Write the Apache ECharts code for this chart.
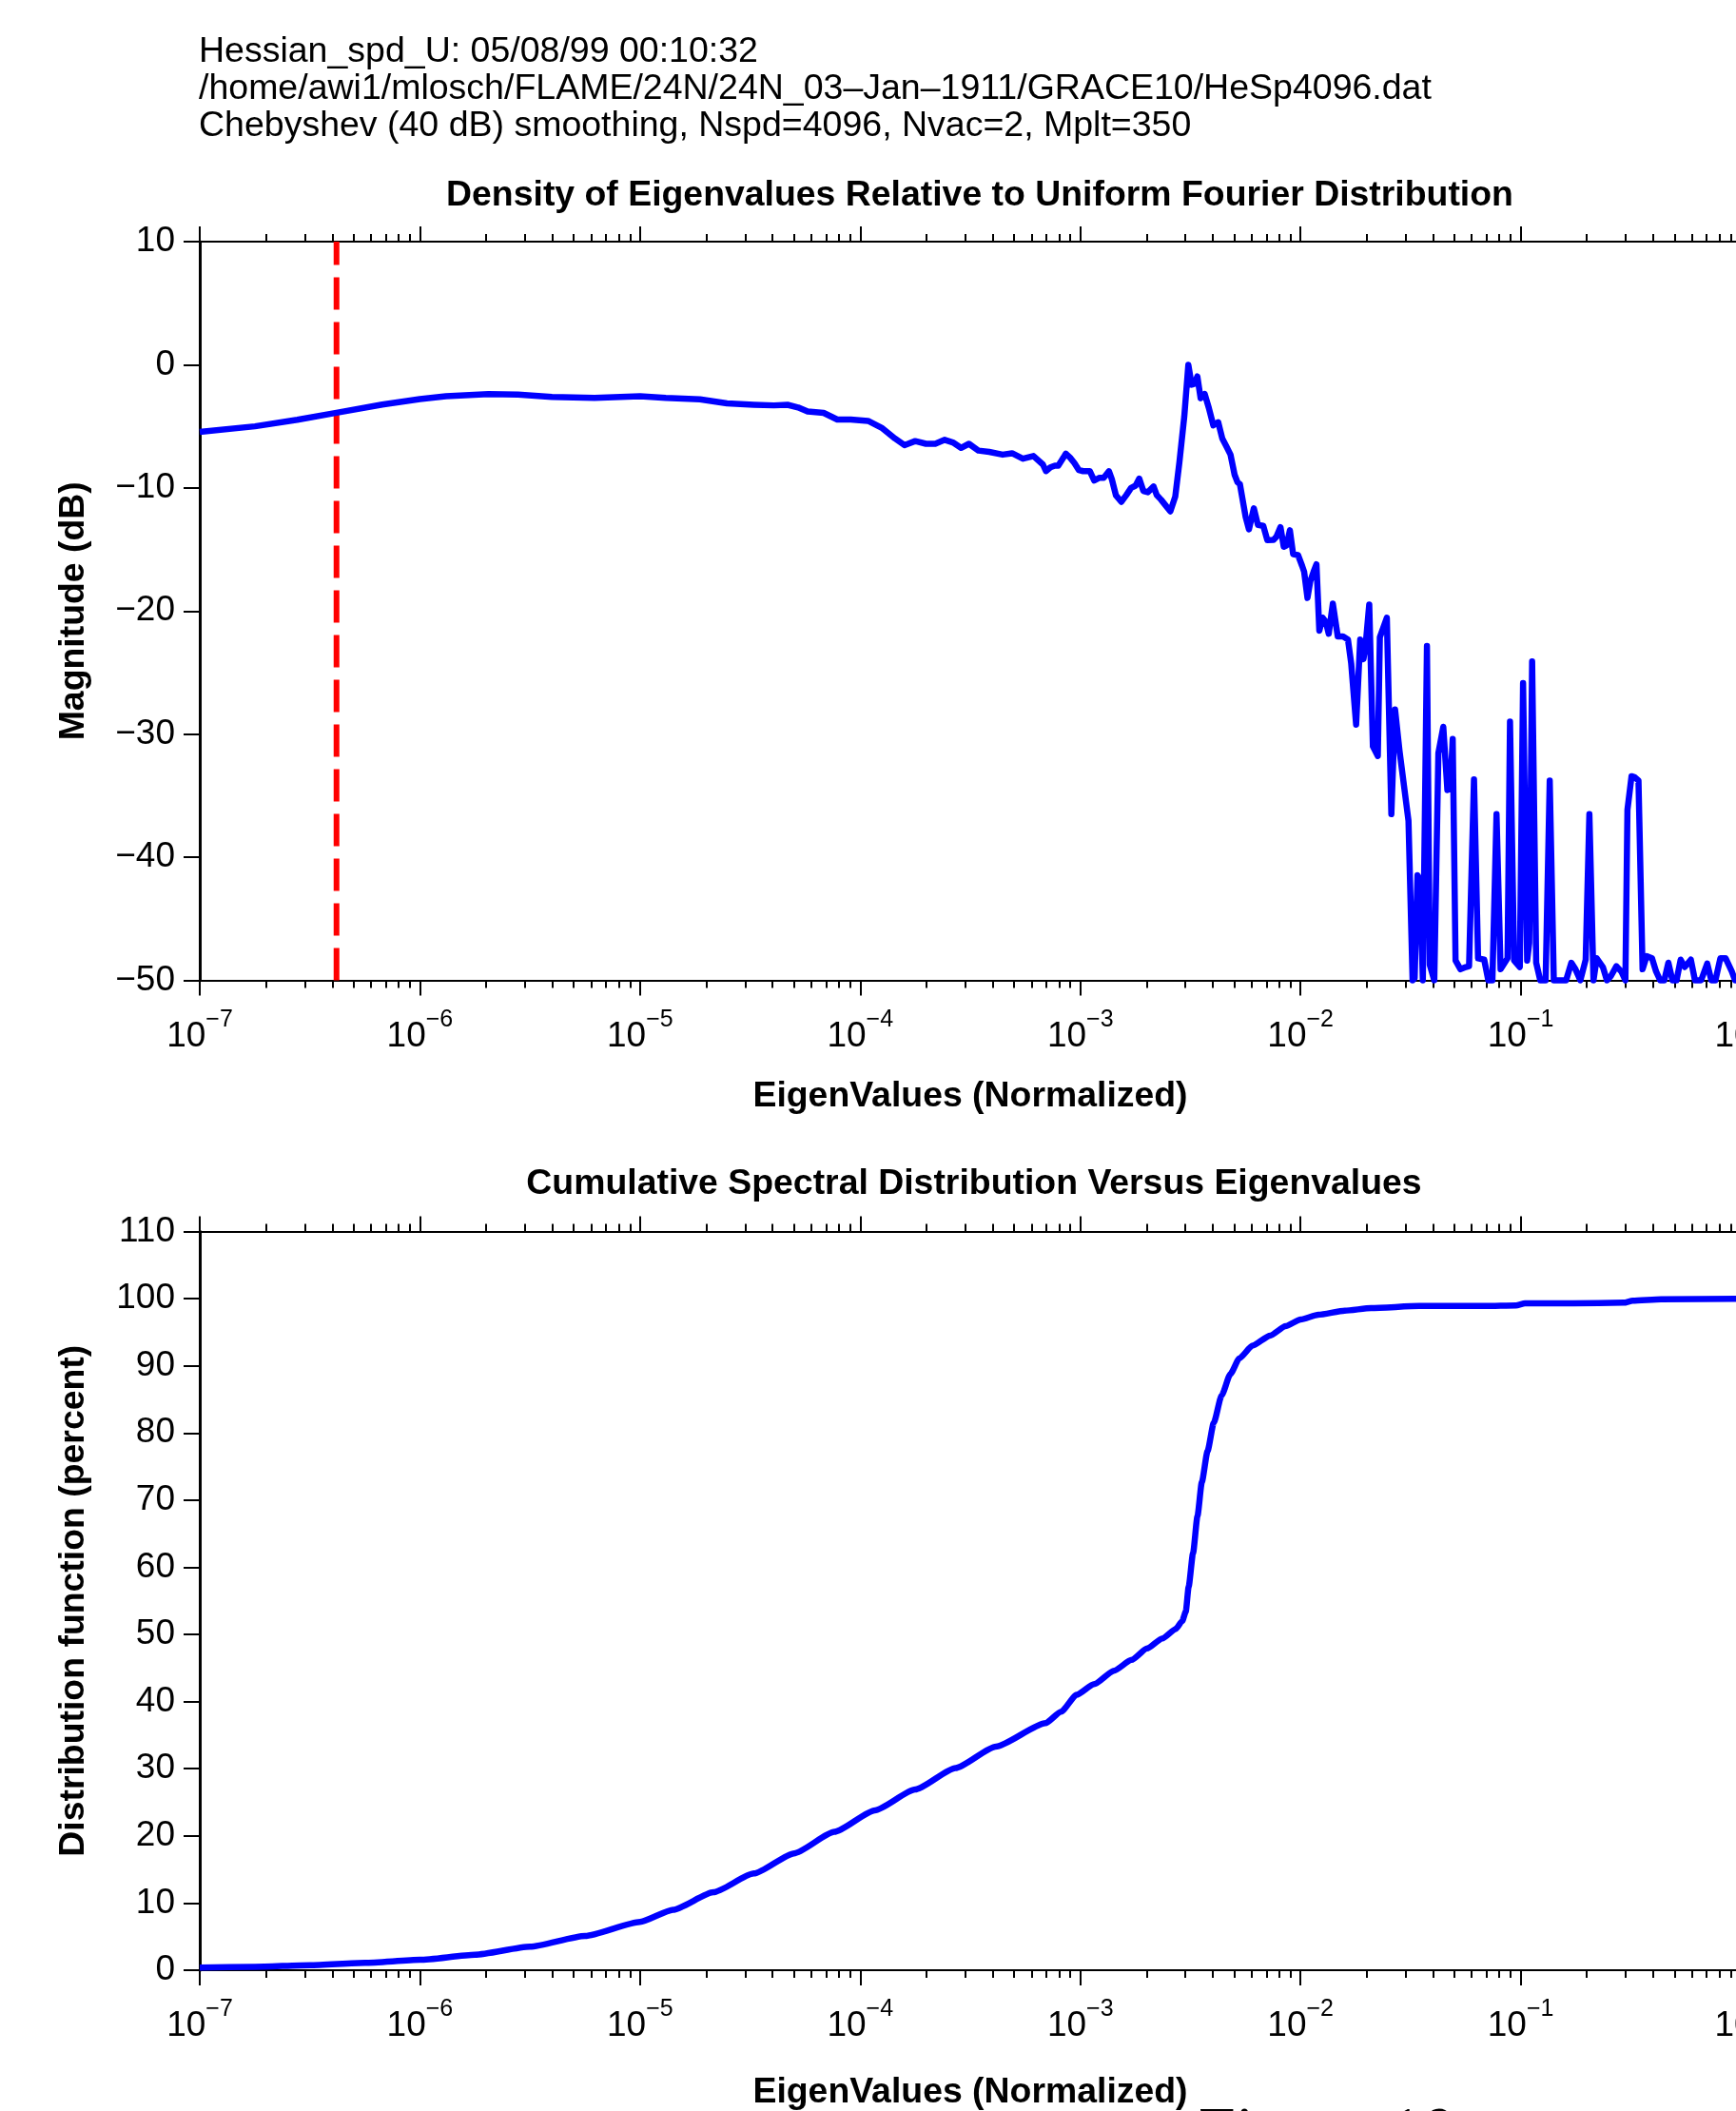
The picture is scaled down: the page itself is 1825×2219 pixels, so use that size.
<!DOCTYPE html>
<html>
<head>
<meta charset="utf-8">
<script src="https://cdn.jsdelivr.net/npm/echarts@6/dist/echarts.min.js"></script>
<style>
  html, body { margin: 0; padding: 0; background: #fff; }
  #chart { width: 1825px; height: 2219px; }
</style>
</head>
<body>
<div id="chart"></div>
<script>
// ---- header lines and titles ----
const headerLines = [
  'Hessian_spd_U: 05/08/99 00:10:32',
  '/home/awi1/mlosch/FLAME/24N/24N_03\u2013Jan\u20131911/GRACE10/HeSp4096.dat',
  'Chebyshev (40 dB) smoothing, Nspd=4096, Nvac=2, Mplt=350'
];
const densityTitle = 'Density of Eigenvalues Relative to Uniform Fourier Distribution';
const cumulativeTitle = 'Cumulative Spectral Distribution Versus Eigenvalues';
const xName = 'EigenValues (Normalized)';
const densityYName = 'Magnitude (dB)';
const cumulativeYName = 'Distribution function (percent)';
const captionText = 'Figure 10';

// ---- eigenvalue axis ticks ----
const decades = [1e-7, 1e-6, 1e-5, 1e-4, 1e-3, 1e-2, 1e-1, 1];
const minorSteps = [2, 3, 4, 5, 6, 7, 8, 9];

// vacuum-mode cutoff (dashed marker) and the dB range it spans
const cutoffEigenvalue = 4.18e-7;
const cutoffSpan = [-50, 10];

// ---- density of eigenvalues (dB), smooth low-eigenvalue part ----
const eigLow = [1.0e-7, 1.782e-7, 2.773e-7, 4.18e-7, 6.745e-7, 1.0e-6, 1.312e-6, 2.046e-6,
  2.793e-6, 3.981e-6, 6.209e-6, 1.0e-5, 1.309e-5];
const magLow = [-5.45, -5.0, -4.47, -3.9, -3.23, -2.79, -2.56, -2.39,
  -2.43, -2.61, -2.70, -2.56, -2.70];

// middle part, slowly falling
const eigMid = [1.871e-5, 2.483e-5, 3.289e-5, 4.055e-5, 4.677e-5, 5.224e-5, 5.768e-5, 6.823e-5,
  7.870e-5, 9.057e-5, 1.086e-4, 1.250e-4, 1.439e-4, 1.589e-4, 1.778e-4, 1.991e-4, 2.193e-4,
  2.421e-4, 2.636e-4, 2.871e-4, 3.119e-4, 3.443e-4, 3.855e-4, 4.436e-4, 4.898e-4, 5.483e-4,
  6.124e-4, 6.761e-4, 6.98e-4, 7.31e-4, 7.66e-4, 7.94e-4, 8.39e-4, 8.59e-4, 8.97e-4, 9.40e-4,
  9.84e-4, 1.030e-3, 1.104e-3, 1.156e-3];
const magMid = [-2.81, -3.14, -3.25, -3.30, -3.25, -3.47, -3.80, -3.91,
  -4.45, -4.45, -4.56, -5.11, -5.99, -6.53, -6.20, -6.42, -6.42,
  -6.10, -6.31, -6.75, -6.42, -6.97, -7.08, -7.30, -7.19, -7.63,
  -7.41, -8.1, -8.64, -8.33, -8.20, -8.20, -7.53, -7.22, -7.53, -7.98,
  -8.55, -8.64, -8.64, -9.4];

// peak near 3e-3 and the roll-off
const eigPeak = [1.223e-3, 1.277e-3, 1.349e-3, 1.390e-3, 1.451e-3, 1.535e-3, 1.615e-3, 1.700e-3,
  1.782e-3, 1.852e-3, 1.933e-3, 2.026e-3, 2.151e-3, 2.226e-3, 2.324e-3, 2.457e-3, 2.564e-3,
  2.699e-3, 2.818e-3, 2.966e-3, 3.095e-3, 3.203e-3, 3.300e-3, 3.401e-3, 3.519e-3, 3.673e-3,
  3.834e-3, 4.019e-3, 4.230e-3, 4.415e-3, 4.608e-3, 4.810e-3, 5.021e-3, 5.174e-3, 5.309e-3,
  5.636e-3, 5.833e-3, 6.140e-3, 6.409e-3, 6.776e-3, 7.072e-3, 7.543e-3, 7.772e-3, 8.112e-3,
  8.395e-3, 8.650e-3, 8.952e-3, 9.263e-3, 9.750e-3, 1.018e-2, 1.039e-2, 1.076e-2, 1.108e-2,
  1.147e-2, 1.182e-2, 1.218e-2, 1.260e-2, 1.304e-2, 1.344e-2, 1.403e-2, 1.477e-2, 1.561e-2,
  1.643e-2, 1.700e-2, 1.790e-2, 1.868e-2, 1.933e-2, 1.975e-2, 2.053e-2, 2.133e-2, 2.246e-2,
  2.294e-2, 2.468e-2, 2.587e-2, 2.689e-2, 2.818e-2, 3.095e-2];
const magPeak = [-9.18, -9.18, -8.65, -9.29, -10.60, -11.13, -10.60, -10.00,
  -9.82, -9.25, -10.25, -10.35, -9.89, -10.60, -10.95, -11.49, -11.91,
  -10.71, -7.94, -4.21, 0.0, -1.62, -1.55, -0.95, -2.72, -2.37,
  -3.50, -4.92, -4.67, -5.99, -6.63, -7.30, -8.93, -9.54, -9.71,
  -12.37, -13.37, -11.66, -13.01, -13.08, -14.25, -14.22, -13.97, -13.19,
  -14.79, -14.68, -13.44, -15.39, -15.46, -16.35, -16.81, -18.94, -17.59,
  -16.81, -16.21, -21.60, -20.54, -20.89, -21.85, -19.40, -22.06, -22.06,
  -22.31, -24.26, -29.23, -22.31, -23.91, -22.84, -19.47, -31.00, -31.78,
  -22.13, -20.54, -36.50, -27.99, -31.36, -37.04];

// sparse high-eigenvalue part, floored at -50 dB
const eigHigh = [3.231e-2, 3.301e-2, 3.401e-2, 3.490e-2, 3.596e-2, 3.754e-2, 3.868e-2, 4.054e-2,
  4.231e-2, 4.454e-2, 4.649e-2, 4.790e-2, 4.915e-2, 5.064e-2, 5.331e-2, 5.636e-2, 5.832e-2,
  6.141e-2, 6.409e-2, 6.833e-2, 7.133e-2, 7.445e-2, 7.772e-2, 8.110e-2, 8.465e-2, 8.722e-2,
  8.950e-2, 9.341e-2, 9.917e-2, 0.1026, 0.1071, 0.1094, 0.1128, 0.1177, 0.1228, 0.1299,
  0.1356, 0.1415, 0.1609, 0.1700, 0.1775, 0.1868, 0.1975, 0.2053, 0.2143, 0.2217, 0.2364,
  0.2467, 0.2575, 0.2723, 0.2867, 0.2992, 0.3057, 0.3191, 0.3288, 0.3431, 0.3581, 0.3738,
  0.3952, 0.4125, 0.4305, 0.4493, 0.4690, 0.4894, 0.5108, 0.5332, 0.5565, 0.5934, 0.6194,
  0.6604, 0.7043, 0.7350, 0.7672, 0.8076, 0.8539, 0.9105, 0.943, 1.0];
const magHigh = [-50, -49.81, -41.47, -41.83, -50, -22.84, -48.75, -50,
  -31.54, -29.41, -34.55, -34.37, -30.40, -48.39, -49.10, -48.92, -48.85,
  -33.67, -48.21, -48.32, -50, -50, -36.50, -49.10, -48.57, -48.21,
  -28.98, -48.39, -48.92, -25.86, -48.39, -46.97, -24.09, -48.57, -50, -50,
  -33.77, -50, -50, -48.57, -49.10, -50, -48.32, -36.50, -50, -48.21, -48.92,
  -50, -49.63, -48.85, -49.28, -50, -36.15, -33.42, -33.49, -33.77, -49.10, -48.04,
  -48.21, -49.28, -50, -50, -48.57, -50, -50, -48.32, -48.92, -48.32, -50,
  -50, -48.64, -50, -50, -48.21, -48.21, -49.28, -50, -50];

// ---- cumulative spectral distribution (percent) ----
const eigCum = [1.0e-7, 1.778e-7, 3.162e-7, 5.623e-7, 1.0e-6, 1.778e-6, 3.162e-6, 5.623e-6,
  1.0e-5, 1.413e-5, 2.153e-5, 3.289e-5, 5.012e-5, 7.638e-5, 1.167e-4, 1.778e-4, 2.710e-4,
  4.130e-4, 6.950e-4, 8.185e-4, 9.616e-4, 1.156e-3, 1.422e-3, 1.710e-3, 2.009e-3, 2.360e-3,
  2.710e-3, 2.904e-3, 3.013e-3, 3.105e-3, 3.251e-3, 3.404e-3, 3.565e-3, 3.784e-3, 4.036e-3,
  4.385e-3, 4.808e-3, 5.272e-3, 6.053e-3, 7.278e-3, 8.551e-3, 1.002e-2, 1.205e-2, 1.589e-2,
  2.094e-2, 3.467e-2, 6.918e-2, 9.528e-2, 0.1047, 0.1734, 0.2944, 0.3228, 0.4345, 1.0];
const pctCum = [0.4, 0.5, 0.75, 1.1, 1.55, 2.3, 3.5, 5.1,
  7.2, 9.0, 11.6, 14.4, 17.4, 20.6, 23.8, 26.9, 30.1,
  33.3, 36.8, 38.5, 41.0, 42.6, 44.6, 46.2, 47.9, 49.4,
  50.8, 52.0, 53.4, 57.1, 62.1, 67.6, 72.7, 77.3, 81.5,
  85.6, 88.8, 91.1, 93.0, 94.5, 95.9, 96.9, 97.6, 98.2,
  98.6, 98.9, 98.9, 99.0, 99.3, 99.3, 99.4, 99.7, 99.9, 100];

// ---- building the chart ----
const FONT = '"Liberation Sans", Arial, Helvetica, sans-serif';
const SERIF = '"Liberation Serif", "Times New Roman", serif';
const BLACK = '#000000';
const BLUE = '#0000ff';

const pairs = (xs, ys) => xs.map((x, i) => [x, ys[i]]);
const densityData = [].concat(
  pairs(eigLow, magLow), pairs(eigMid, magMid), pairs(eigPeak, magPeak), pairs(eigHigh, magHigh));
const cumulativeData = pairs(eigCum, pctCum);
const cutoffData = cutoffSpan.map(v => [cutoffEigenvalue, v]);

const minorTicks = [];
decades.slice(0, -1).forEach(d => minorSteps.forEach(k => minorTicks.push(k * d)));

function decadeLabel(v) {
  const e = Math.round(Math.log10(v));
  const exp = e < 0 ? '\u2212' + (-e) : String(e);
  return '{b|10}{s|' + exp + '}';
}

function xAxesFor(gridIndex, nameGap) {
  const base = {
    type: 'log', logBase: 10, min: 1e-7, max: 1, splitNumber: 7, gridIndex,
    splitLine: { show: false }, minorTick: { show: false }, minorSplitLine: { show: false }
  };
  const line = { show: true, onZero: false, lineStyle: { color: BLACK, width: 2 } };
  const noLine = { show: false, onZero: false };
  const major = { show: true, inside: false, length: 16, lineStyle: { color: BLACK, width: 2 } };
  const minor = { show: true, inside: false, length: 8, lineStyle: { color: BLACK, width: 2 },
    customValues: minorTicks };
  return [
    Object.assign({}, base, {
      position: 'bottom', axisLine: line, axisTick: major,
      axisLabel: {
        show: true, margin: 29, formatter: decadeLabel, hideOverlap: false,
        rich: {
          b: { fontSize: 37, fontFamily: FONT, color: BLACK },
          s: { fontSize: 25, fontFamily: FONT, color: BLACK, padding: [0, 0, 35, 0] }
        }
      },
      name: xName, nameLocation: 'middle', nameGap,
      nameTextStyle: { fontSize: 37.4, fontWeight: 'bold', fontFamily: FONT, color: BLACK }
    }),
    Object.assign({}, base, { position: 'bottom', axisLine: noLine, axisTick: minor,
      axisLabel: { show: false } }),
    Object.assign({}, base, { position: 'top', axisLine: line, axisTick: major,
      axisLabel: { show: false } }),
    Object.assign({}, base, { position: 'top', axisLine: noLine, axisTick: minor,
      axisLabel: { show: false } })
  ];
}

function yAxisFor(gridIndex, min, max, name) {
  return {
    type: 'value', gridIndex, min, max, interval: 10, position: 'left',
    axisLine: { show: true, onZero: false, lineStyle: { color: BLACK, width: 3 } },
    axisTick: { show: true, inside: false, length: 17, lineStyle: { color: BLACK, width: 2 } },
    axisLabel: {
      fontSize: 37, fontFamily: FONT, color: BLACK, margin: 26,
      formatter: v => String(v).replace('-', '\u2212')
    },
    splitLine: { show: false },
    name, nameLocation: 'middle', nameGap: 114,
    nameTextStyle: { fontSize: 37.4, fontWeight: 'bold', fontFamily: FONT, color: BLACK }
  };
}

const headerGraphics = headerLines.map((t, i) => ({
  type: 'text', x: 209, y: 55 + i * 38.8, silent: true,
  style: { text: t, font: '37.5px ' + FONT, fill: BLACK, align: 'left', verticalAlign: 'middle' }
}));

const option = {
  animation: false,
  backgroundColor: '#ffffff',
  grid: [
    { left: 210, top: 254, width: 1620, height: 776.5, outerBoundsMode: 'none', containLabel: false },
    { left: 210, top: 1294.5, width: 1620, height: 776.5, outerBoundsMode: 'none', containLabel: false }
  ],
  xAxis: [].concat(xAxesFor(0, 104), xAxesFor(1, 110)),
  yAxis: [
    yAxisFor(0, -50, 10, densityYName),
    yAxisFor(1, 0, 110, cumulativeYName)
  ],
  graphic: headerGraphics.concat([
    { type: 'text', x: 1030, y: 205.5, silent: true,
      style: { text: densityTitle, font: 'bold 37.4px ' + FONT, fill: BLACK,
        align: 'center', verticalAlign: 'middle' } },
    { type: 'text', x: 1024, y: 1245, silent: true,
      style: { text: cumulativeTitle, font: 'bold 37.4px ' + FONT, fill: BLACK,
        align: 'center', verticalAlign: 'middle' } },
    { type: 'text', x: 1260, y: 2245, silent: true,
      style: { text: captionText, font: '70px ' + SERIF, fill: BLACK,
        align: 'left', verticalAlign: 'middle' } }
  ]),
  series: [
    {
      name: 'cutoff', type: 'line', xAxisIndex: 0, yAxisIndex: 0,
      data: cutoffData, showSymbol: false, symbol: 'none', clip: false, silent: true,
      lineStyle: { color: '#ff0000', width: 6, type: [34, 13], cap: 'butt' },
      itemStyle: { color: '#ff0000' },
      z: 2
    },
    {
      name: 'density', type: 'line', xAxisIndex: 0, yAxisIndex: 0,
      data: densityData, showSymbol: false, symbol: 'none', clip: false,
      lineStyle: { color: BLUE, width: 6.5, join: 'round' },
      itemStyle: { color: BLUE },
      z: 3
    },
    {
      name: 'cumulative', type: 'line', xAxisIndex: 4, yAxisIndex: 1,
      data: cumulativeData, showSymbol: false, symbol: 'none', clip: false,
      smooth: 0.2, smoothMonotone: 'x',
      lineStyle: { color: BLUE, width: 6.5, join: 'round' },
      itemStyle: { color: BLUE },
      z: 3
    }
  ]
};

const chart = echarts.init(document.getElementById('chart'), null, { renderer: 'canvas' });
chart.setOption(option);
</script>
</body>
</html>
